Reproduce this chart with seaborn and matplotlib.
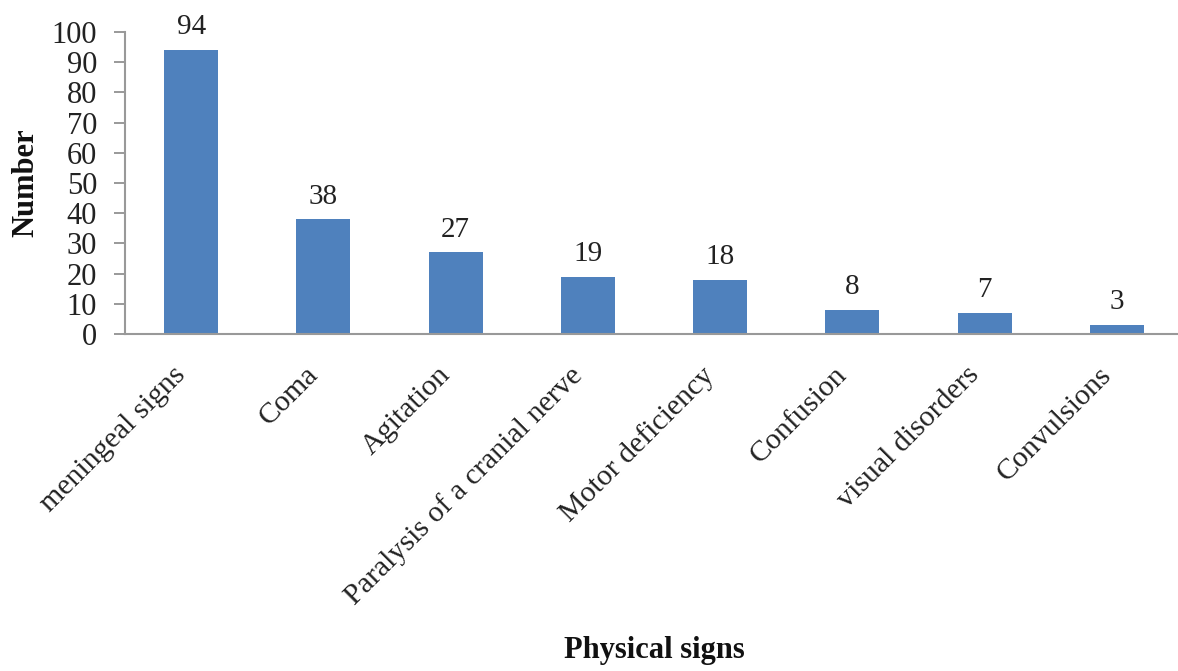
import matplotlib
matplotlib.use("Agg")
import matplotlib.pyplot as plt
import matplotlib.transforms as mtransforms
import seaborn as sns
import numpy as np

categories = ["meningeal signs", "Coma", "Agitation", "Paralysis of a cranial nerve",
              "Motor deficiency", "Confusion", "visual disorders", "Convulsions"]
values = [94, 38, 27, 19, 18, 8, 7, 3]
y_ticks = list(range(0, 101, 10))

sns.set_theme(style="white")
plt.rcParams['font.family'] = ['Liberation Serif', 'DejaVu Serif']

fig = plt.figure(figsize=(11.78, 6.71), dpi=100)
ax = fig.add_axes([125/1178, 337/671, 1058/1178, 302/671])

sns.barplot(x=categories, y=values, color="#4F81BD", width=0.41, ax=ax,
            saturation=1, edgecolor="none")

for c in ax.containers:
    ax.bar_label(c, padding=7, fontsize=21, color="#222222")

ax.set_ylim(0, 100)
ax.set_xlim(-0.5, len(categories) - 0.5)
ax.set_yticks(y_ticks)
ax.set_yticklabels([str(t) for t in y_ticks], fontsize=22, color="#222222")

ax.set_xticks(np.arange(len(categories)))
ax.set_xticklabels(categories, rotation=45, ha="right", rotation_mode="default",
                   fontsize=21.5, color="#222222")
offset = mtransforms.ScaledTranslation(10/100, 0, fig.dpi_scale_trans)
for lbl in ax.get_xticklabels():
    lbl.set_transform(lbl.get_transform() + offset)
ax.set_xticks(np.arange(len(categories) + 1) - 0.5, minor=True)
ax.tick_params(axis="x", which="major", length=0, pad=20)
ax.tick_params(axis="x", which="minor", length=7, width=1.2, color="#888888", direction="out")
ax.tick_params(axis="y", length=8, width=1.2, color="#888888", direction="out", pad=12, left=True)

for s in ["top", "right"]:
    ax.spines[s].set_visible(False)
for s in ["left", "bottom"]:
    ax.spines[s].set_color("#999999")
    ax.spines[s].set_linewidth(1.5)

ax.set_ylabel("Number", fontsize=22, fontweight="bold", color="#111111")
ax.yaxis.set_label_coords(-0.08, 0.5)
ax.set_xlabel("Physical signs", fontsize=22, fontweight="bold", color="#111111")
ax.xaxis.set_label_coords(0.5, -1.0)

fig.savefig("out.png", dpi=100)
